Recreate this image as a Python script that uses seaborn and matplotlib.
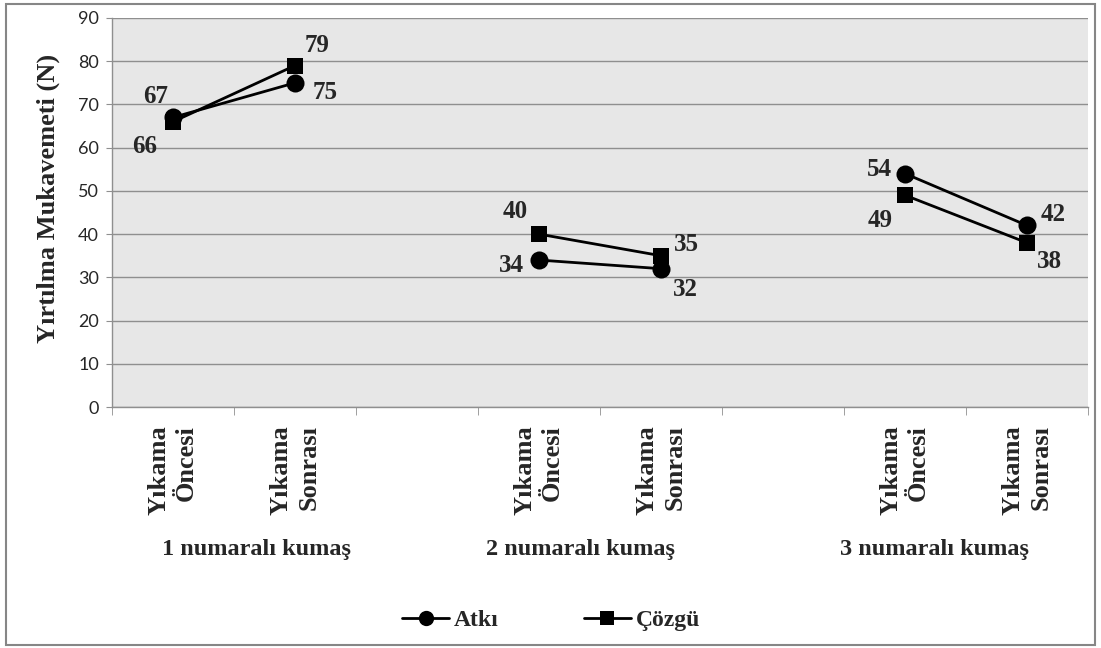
import numpy as np
import pandas as pd
import matplotlib
matplotlib.use("Agg")
import matplotlib.pyplot as plt
from matplotlib.patches import Rectangle
from matplotlib.lines import Line2D
from matplotlib.font_manager import FontProperties
import seaborn as sns

# ---------------- data ----------------
categories = ["Yıkama\nÖncesi", "Yıkama\nSonrası", "",
              "Yıkama\nÖncesi", "Yıkama\nSonrası", "",
              "Yıkama\nÖncesi", "Yıkama\nSonrası"]
category_group = [1, 1, None, 2, 2, None, 3, 3]
group_labels = ["1 numaralı kumaş", "2 numaralı kumaş", "3 numaralı kumaş"]
series_names = ["Atkı", "Çözgü"]
atki = [67, 75, None, 34, 32, None, 54, 42]
cozgu = [66, 79, None, 40, 35, None, 49, 38]
y_ticks = [0, 10, 20, 30, 40, 50, 60, 70, 80, 90]
y_label = "Yırtılma Mukavemeti (N)"

# ---------------- layout / style ----------------
W, H, DPI = 1101, 648, 100
SERIF = "Liberation Serif"
markers = {"Atkı": "o", "Çözgü": "s"}
marker_sizes = {"o": 13, "s": 11}
# data label offsets in pixels (dx, dy) per series, per category
label_offsets = {
    "Atkı":  [(-17, 21), (30, -10), None, (-27, -5), (24, -21), None, (-26, 4), (26, 11)],
    "Çözgü": [(-28, -25), (22, 20), None, (-24, 23), (25, 11), None, (-25, -25), (23, -19)],
}
group_centers_px = [256, 580, 934]

sns.set_style("white")
plt.rcParams["font.family"] = ["DejaVu Sans"]

rows = []
for name, vals in zip(series_names, [atki, cozgu]):
    for i, (v, g) in enumerate(zip(vals, category_group)):
        if v is not None:
            rows.append({"pos": i, "val": v, "series": name, "grp": g})
df = pd.DataFrame(rows)

fig = plt.figure(figsize=(W / DPI, H / DPI), dpi=DPI)
ax_l, ax_r, ax_t, ax_b = 112, 1088, 18, 407
ax = fig.add_axes([ax_l / W, 1 - ax_b / H, (ax_r - ax_l) / W, (ax_b - ax_t) / H])
ax.set_facecolor("#e7e7e7")

sns.lineplot(data=df, x="pos", y="val", hue="series", style="series",
             units="grp", estimator=None, hue_order=series_names,
             palette={"Atkı": "black", "Çözgü": "black"},
             markers=markers, dashes=False, linewidth=2.0,
             markersize=12, markeredgewidth=0, legend=False, ax=ax)
for ln in ax.lines:
    m = ln.get_marker()
    if m in marker_sizes:
        ln.set_markersize(marker_sizes[m])
    ln.set_zorder(4 if m == "o" else 3)

ax.set_xlim(-0.5, len(categories) - 0.5)
ax.set_ylim(0, 90)
ax.set_yticks(y_ticks)
ax.yaxis.grid(True, color="#8f8f8f", linewidth=1.0)
ax.set_axisbelow(True)
ax.set_xlabel("")
ax.set_ylabel("")
for s in ["top", "right"]:
    ax.spines[s].set_visible(False)
for s in ["left", "bottom"]:
    ax.spines[s].set_color("#8f8f8f")
    ax.spines[s].set_linewidth(1.0)

# y ticks
ax.tick_params(axis="y", which="major", left=True, length=4.5, color="#8f8f8f",
               direction="out", pad=5, labelsize=13)
for t in ax.get_yticklabels():
    t.set_fontfamily("Lato")

# x ticks: boundaries as minor tick marks, labels at category centers
ax.set_xticks(np.arange(-0.5, len(categories), 1.0), minor=True)
ax.set_xticks(range(len(categories)))
ax.set_xticklabels(categories, rotation=90, ha="center", va="top",
                   multialignment="right", linespacing=1.25,
                   fontfamily=SERIF, fontweight="bold", fontsize=19)
ax.tick_params(axis="x", which="major", bottom=True, length=0, pad=13)
ax.tick_params(axis="x", which="minor", bottom=True, length=5.5, color="#8f8f8f",
               direction="out")

# data labels
for name, vals in zip(series_names, [atki, cozgu]):
    for i, v in enumerate(vals):
        if v is None:
            continue
        dx, dy = label_offsets[name][i]
        ax.annotate(str(v), xy=(i, v), xytext=(dx, dy), textcoords="offset pixels",
                    ha="center", va="center", fontfamily=SERIF,
                    fontweight="bold", fontsize=18, zorder=6)

# group labels
for lab, cx in zip(group_labels, group_centers_px):
    fig.text(cx / W, 1 - 555 / H, lab, ha="center", va="baseline",
             fontfamily=SERIF, fontweight="bold", fontsize=17.5)

# y-axis title
fig.text(48 / W, 1 - 198 / H, y_label, rotation=90, ha="center", va="center",
         fontfamily=SERIF, fontweight="bold", fontsize=19)

# legend
handles = [Line2D([], [], color="black", lw=2.0, marker=markers[n],
                  markersize=11 if markers[n] == "o" else 10, markeredgewidth=0)
           for n in series_names]
fig.legend(handles, series_names, loc="center",
           bbox_to_anchor=(551 / W, 1 - 620 / H), ncol=2, frameon=False,
           handlelength=2.0, handletextpad=0.2, columnspacing=3.6,
           prop=FontProperties(family=SERIF, weight="bold", size=17))

# outer chart border
fig.add_artist(Rectangle((6 / W, 1 - 645 / H), (1095 - 6) / W, (645 - 4) / H,
                         transform=fig.transFigure, fill=False,
                         edgecolor="#868686", linewidth=1.5))

fig.savefig("out.png", dpi=DPI)
